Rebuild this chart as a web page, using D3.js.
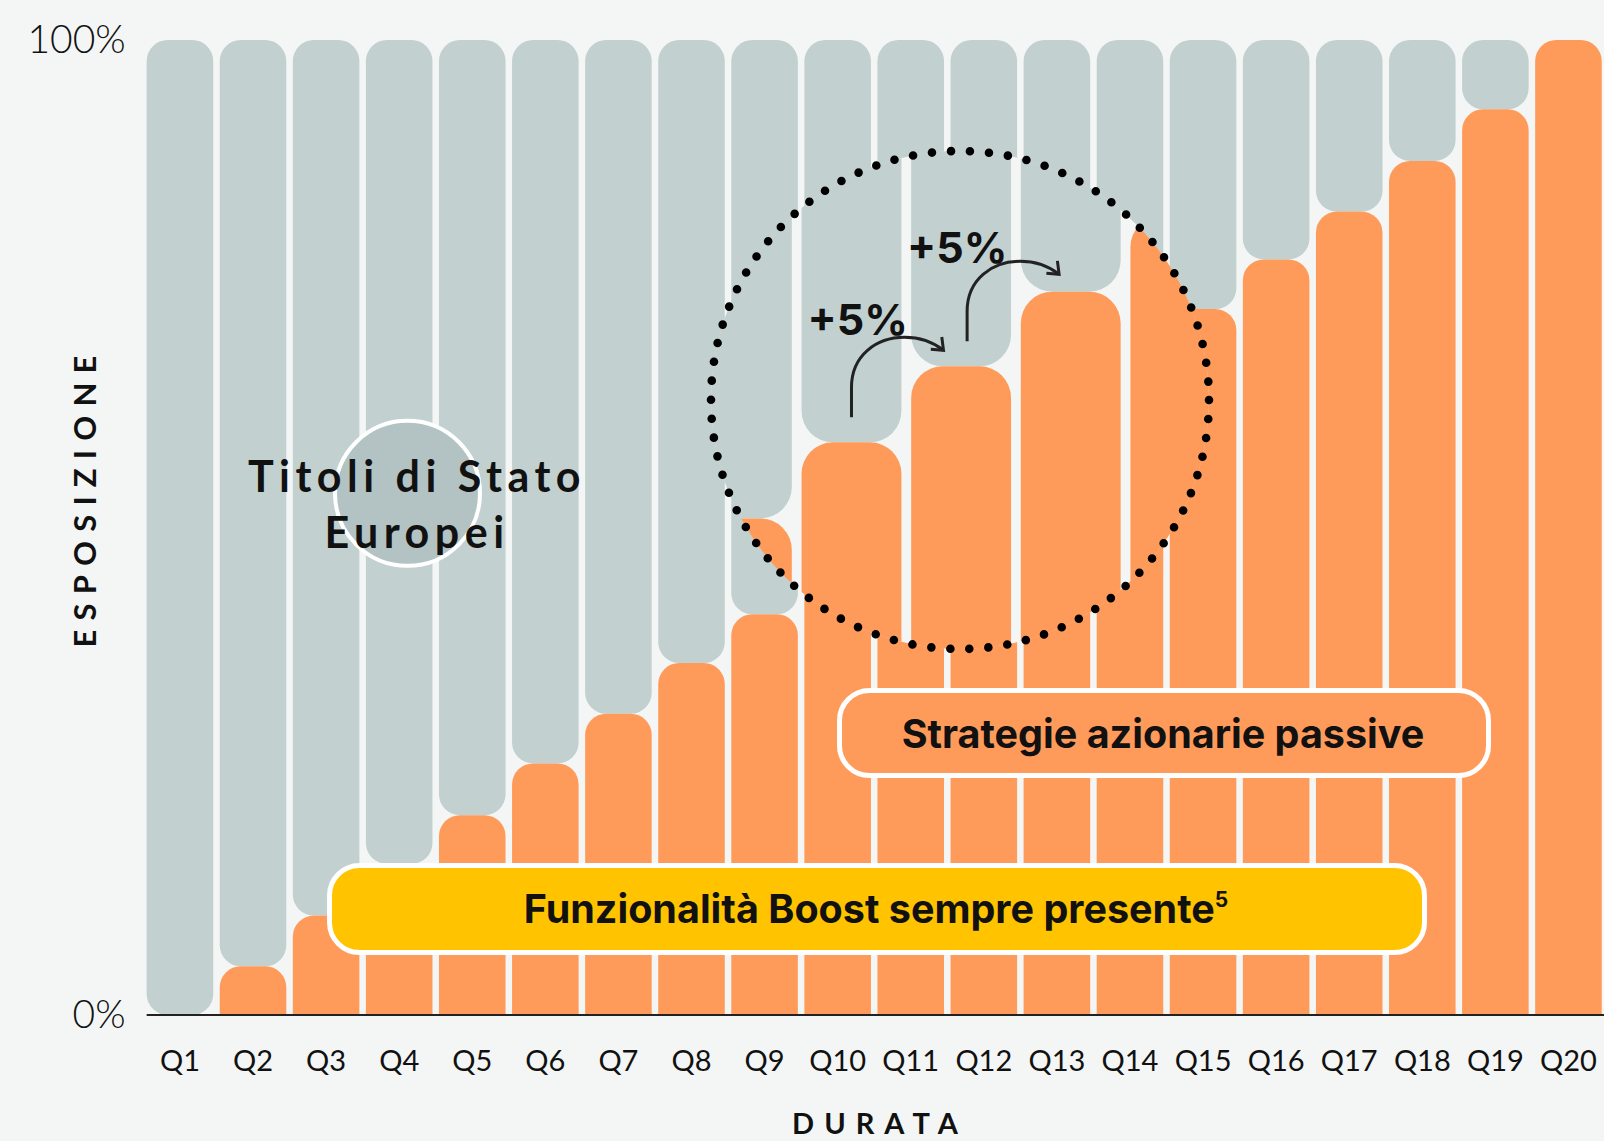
<!DOCTYPE html>
<html>
<head>
<meta charset="utf-8">
<script src="https://cdn.jsdelivr.net/npm/d3@7"></script>
<style>
  html, body { margin: 0; padding: 0; background: #f4f6f5; }
  svg { display: block; font-family: Lato, "Open Sans", sans-serif; }
</style>
</head>
<body>
<svg id="chart" width="1604" height="1141"></svg>
<script>
// durata (trimestri)
var categories = ['Q1','Q2','Q3','Q4','Q5','Q6','Q7','Q8','Q9','Q10',
                  'Q11','Q12','Q13','Q14','Q15','Q16','Q17','Q18','Q19','Q20'];
// esposizione strategie azionarie passive (%)
var equity = [0, 5, 10.2, 15.5, 20.5, 25.8, 30.9, 36.1, 41.1, 46.3,
              51.5, 56.6, 61.8, 67.1, 72.4, 77.5, 82.4, 87.6, 92.9, 100];
// esposizione titoli di stato europei (%)
var bonds = [100, 95, 89.8, 84.5, 79.5, 74.2, 69.1, 63.9, 58.9, 53.7,
             48.5, 43.4, 38.2, 32.9, 27.6, 22.5, 17.6, 12.4, 7.1, 0];
var yTicks = [0, 100];
var yTickLabels = ['0%', '100%'];
// passi evidenziati nella lente
var steps = [{from: 'Q10', label: '+5%'}, {from: 'Q11', label: '+5%'}];

var W = 1604, H = 1141;
var bg = '#f4f6f5', grey = '#c2d0d0', orange = '#ff9b5a', yellow = '#ffc300', ink = '#111';
var boldFont = 'Inter, Lato, sans-serif';

var svg = d3.select('#chart');

var x = d3.scaleBand()
  .domain(categories)
  .range([143.4, 1605])
  .paddingInner(0.089)
  .paddingOuter(0.0445);

var y = d3.scaleLinear()
  .domain([0, 100])
  .range([1015, 40]);

var r = 21;

function barPath(x0, y0, w, h, rt, rb) {
  rt = Math.min(rt, w / 2, h / 2);
  rb = Math.min(rb, w / 2, h / 2);
  return 'M' + x0 + ',' + (y0 + rt) +
    'A' + rt + ',' + rt + ' 0 0 1 ' + (x0 + rt) + ',' + y0 +
    'H' + (x0 + w - rt) +
    'A' + rt + ',' + rt + ' 0 0 1 ' + (x0 + w) + ',' + (y0 + rt) +
    'V' + (y0 + h - rb) +
    'A' + rb + ',' + rb + ' 0 0 1 ' + (x0 + w - rb) + ',' + (y0 + h) +
    'H' + (x0 + rb) +
    'A' + rb + ',' + rb + ' 0 0 1 ' + x0 + ',' + (y0 + h - rb) +
    'Z';
}

function drawBars(g) {
  g.selectAll('path.bond')
    .data(categories.filter(function(d, i) { return bonds[i] > 0; }))
    .enter().append('path')
    .attr('class', 'bond')
    .attr('d', function(d) {
      var i = categories.indexOf(d);
      var top = y(100), bottom = y(100 - bonds[i]);
      return barPath(x(d), top, x.bandwidth(), bottom - top, r, r);
    })
    .style('fill', grey);

  g.selectAll('path.equity')
    .data(categories.filter(function(d, i) { return equity[i] > 0; }))
    .enter().append('path')
    .attr('class', 'equity')
    .attr('d', function(d) {
      var i = categories.indexOf(d);
      var top = y(equity[i]);
      return barPath(x(d), top, x.bandwidth(), y(0) - top, r, 0);
    })
    .style('fill', orange);
}

svg.append('rect')
  .attr('width', W).attr('height', H)
  .style('fill', bg);

drawBars(svg.append('g'));

// asse x
svg.append('g')
  .attr('transform', 'translate(0,' + y(0) + ')')
  .call(d3.axisBottom(x).tickSize(0).tickPadding(35))
  .call(function(g) {
    g.select('.domain')
      .attr('d', 'M' + x('Q1') + ',0H' + W)
      .style('stroke', '#222').style('stroke-width', 1.8);
    g.selectAll('text')
      .style('font-family', 'Lato, sans-serif')
      .style('font-size', '29px')
      .style('fill', ink);
  });

// asse y
svg.append('g')
  .attr('transform', 'translate(' + x('Q1') + ',0)')
  .call(d3.axisLeft(y).tickValues(yTicks).tickSize(0).tickPadding(21)
    .tickFormat(function(d, i) { return yTickLabels[i]; }))
  .call(function(g) {
    g.select('.domain').remove();
    g.selectAll('text')
      .style('font-family', 'Lato, sans-serif')
      .style('font-weight', 300)
      .style('font-size', '39px')
      .style('fill', ink);
  });

// lente di ingrandimento
var lens = {cx: 960, cy: 400, r: 249, k: 1.5, tx: -405, ty: -403};

svg.append('clipPath').attr('id', 'lensClip')
  .append('circle')
  .attr('cx', lens.cx).attr('cy', lens.cy).attr('r', lens.r);

var lensG = svg.append('g').attr('clip-path', 'url(#lensClip)');
lensG.append('circle')
  .attr('cx', lens.cx).attr('cy', lens.cy).attr('r', lens.r)
  .style('fill', bg);
drawBars(lensG.append('g')
  .attr('transform', 'translate(' + lens.tx + ',' + lens.ty + ') scale(' + lens.k + ')'));

var circ = 2 * Math.PI * lens.r;
svg.append('circle')
  .attr('cx', lens.cx).attr('cy', lens.cy).attr('r', lens.r)
  .style('fill', 'none')
  .style('stroke', '#000')
  .style('stroke-width', 8.6)
  .style('stroke-linecap', 'round')
  .style('stroke-dasharray', '0,' + (circ / 82));

function magX(q) { return lens.k * x(q) + lens.tx; }
function magY(v) { return lens.k * y(v) + lens.ty; }

var arrowShift = [0, 6];
var labelOffset = [[-44, -82], [-54, -78]];
steps.forEach(function(s, i) {
  var idx = categories.indexOf(s.from);
  var sx = magX(s.from) + lens.k * x.bandwidth() / 2;
  var sy = magY(equity[idx]) - 25;
  var ax = sx + arrowShift[i];
  var g = svg.append('g').attr('transform', 'translate(' + ax + ',' + sy + ')');
  g.append('path')
    .attr('d', 'M0,0V-30C0,-62 25,-80 53,-80C70,-80 83,-74 92,-67')
    .style('fill', 'none').style('stroke', '#222').style('stroke-width', 3);
  g.append('path')
    .attr('d', 'M90.3,-80.4L92,-67L79.3,-68')
    .style('fill', 'none').style('stroke', '#222').style('stroke-width', 3);
  svg.append('text')
    .attr('x', sx + labelOffset[i][0])
    .attr('y', sy + labelOffset[i][1])
    .style('font-family', boldFont)
    .style('font-weight', 700)
    .style('font-size', '43px')
    .style('fill', ink)
    .text(s.label);
});

// etichetta titoli di stato
svg.append('circle')
  .attr('cx', 407.5).attr('cy', 493.3).attr('r', 72.5)
  .style('fill', '#b3c3c3')
  .style('stroke', '#fff').style('stroke-width', 4);

var tLabel = svg.append('text')
  .attr('text-anchor', 'middle')
  .style('font-family', 'Lato, sans-serif')
  .style('font-weight', 700)
  .style('font-size', '43px')
  .style('letter-spacing', '5.5px')
  .style('fill', ink);
tLabel.append('tspan').attr('x', 417).attr('y', 492).text('Titoli di Stato');
tLabel.append('tspan').attr('x', 417).attr('y', 548).text('Europei');

// riquadro strategie azionarie
svg.append('rect')
  .attr('x', 839.5).attr('y', 690.5).attr('width', 649).attr('height', 85)
  .attr('rx', 30)
  .style('fill', orange)
  .style('stroke', '#fff').style('stroke-width', 5);
svg.append('text')
  .attr('x', 1163).attr('y', 748)
  .attr('text-anchor', 'middle')
  .style('font-family', boldFont)
  .style('font-weight', 700)
  .style('font-size', '39.5px')
  .style('fill', ink)
  .text('Strategie azionarie passive');

// riquadro boost
svg.append('rect')
  .attr('x', 329.5).attr('y', 865.5).attr('width', 1095).attr('height', 87)
  .attr('rx', 30)
  .style('fill', yellow)
  .style('stroke', '#fff').style('stroke-width', 5);
var boost = svg.append('text')
  .attr('x', 876).attr('y', 923)
  .attr('text-anchor', 'middle')
  .style('font-family', boldFont)
  .style('font-weight', 700)
  .style('font-size', '39.5px')
  .style('fill', ink);
boost.append('tspan').text('Funzionalità Boost sempre presente');
boost.append('tspan').attr('dy', -16).style('font-size', '21px').text('5');

// titoli assi
svg.append('text')
  .attr('transform', 'translate(96,' + 502 + ') rotate(-90)')
  .attr('x', 5)
  .attr('text-anchor', 'middle')
  .style('font-family', 'Lato, sans-serif')
  .style('font-weight', 700)
  .style('font-size', '31px')
  .style('letter-spacing', '9.2px')
  .style('fill', ink)
  .text('ESPOSIZIONE');

svg.append('text')
  .attr('x', 880).attr('y', 1134)
  .attr('text-anchor', 'middle')
  .style('font-family', 'Lato, sans-serif')
  .style('font-weight', 700)
  .style('font-size', '29px')
  .style('letter-spacing', '10px')
  .style('fill', ink)
  .text('DURATA');
</script>
</body>
</html>
